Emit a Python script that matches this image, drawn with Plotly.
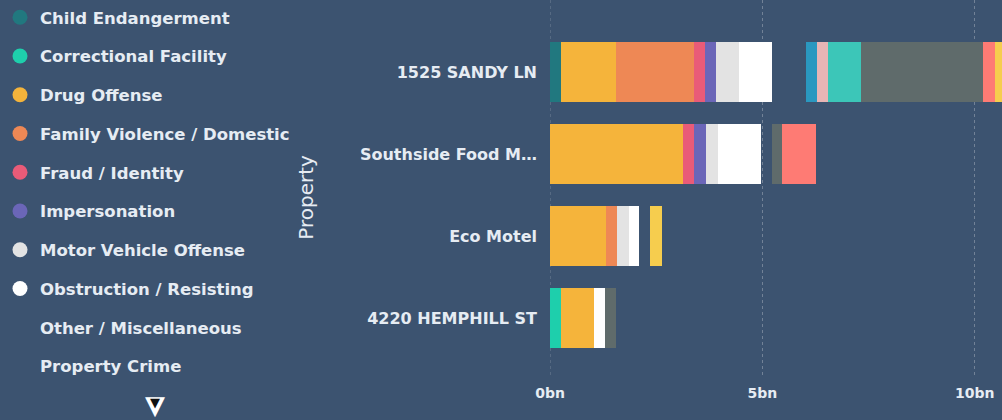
import plotly.graph_objects as go

properties = ["1525 SANDY LN", "Southside Food M\u2026", "Eco Motel", "4220 HEMPHILL ST"]

categories = [
    "Child Endangerment", "Correctional Facility", "Drug Offense",
    "Family Violence / Domestic", "Fraud / Identity", "Impersonation",
    "Motor Vehicle Offense", "Obstruction / Resisting", "Other / Miscellaneous",
    "Property Crime", "Public Order", "Sex Offense", "Theft", "Traffic",
    "Vandalism", "Weapons",
]

child_endangerment = [0.26, 0, 0, 0]
correctional_facility = [0, 0, 0, 0.27]
drug_offense = [1.29, 3.13, 1.32, 0.76]
family_violence = [1.84, 0, 0.26, 0]
fraud_identity = [0.26, 0.26, 0, 0]
impersonation = [0.26, 0.28, 0, 0]
motor_vehicle = [0.54, 0.28, 0.28, 0]
obstruction = [0.78, 1.01, 0.24, 0.27]
other_misc = [0.54, 0.27, 0.26, 0]
property_crime = [0.26, 0, 0, 0]
public_order = [0.25, 0, 0, 0]
sex_offense = [0.26, 0, 0, 0]
theft = [0.78, 0, 0, 0]
traffic = [2.87, 0.24, 0, 0.26]
vandalism = [0.28, 0.80, 0, 0]
weapons = [0.30, 0, 0.28, 0]

series = [child_endangerment, correctional_facility, drug_offense, family_violence,
          fraud_identity, impersonation, motor_vehicle, obstruction, other_misc,
          property_crime, public_order, sex_offense, theft, traffic, vandalism, weapons]

colors = ["#21787f", "#1ecfac", "#f5b43b", "#ee8855", "#e95b78", "#6b66b8",
          "#e3e3e3", "#ffffff", "rgba(0,0,0,0)", "rgba(0,0,0,0)", "#2a98c0",
          "#e8b5b5", "#3cc6b8", "#5f6b6b", "#fe7b74", "#f6cd4e"]

x_tickvals = [0, 5, 10]
x_ticktext = ["0bn", "5bn", "10bn"]

legend_visible = 10

BG = "#3c5370"
TXT = "#e6ecf3"
FONT = "DejaVu Sans"
GRID = "rgba(255,255,255,0.28)"

fig = go.Figure()
for i, (name, vals, col) in enumerate(zip(categories, series, colors)):
    fig.add_trace(go.Bar(
        y=properties, x=vals, name=name, orientation="h",
        marker=dict(color=col, line=dict(width=0)),
        legendgroup=name, showlegend=False,
    ))
    if i < legend_visible:
        fig.add_trace(go.Scatter(
            x=[None], y=[None], mode="markers", name=name, legendgroup=name,
            marker=dict(symbol="circle", size=15, color=col),
            showlegend=True, hoverinfo="skip",
        ))

fig.update_layout(
    width=1002, height=420,
    barmode="stack", bargap=0.26,
    paper_bgcolor=BG, plot_bgcolor=BG,
    margin=dict(l=550, r=0, t=0, b=45),
    font=dict(family=FONT, color=TXT, size=15),
    legend=dict(
        xref="container", yref="container", x=0, y=1.035,
        xanchor="left", yanchor="top", maxheight=440,
        font=dict(family=FONT, size=16.5, color=TXT, weight="bold"),
        tracegroupgap=14.3, bgcolor="rgba(0,0,0,0)", itemclick=False,
    ),
    xaxis=dict(
        range=[0, 10.64], tickvals=x_tickvals, ticktext=x_ticktext,
        showgrid=True, gridcolor=GRID, griddash="dot",
        gridwidth=1, zeroline=False, showline=False,
        tickfont=dict(family=FONT, size=14, color=TXT, weight=600),
        ticklabelstandoff=8,
    ),
    yaxis=dict(
        categoryorder="array", categoryarray=properties,
        range=[3.695, -0.878], showgrid=False, zeroline=False,
        tickfont=dict(family=FONT, size=16, color=TXT, weight="bold"),
        ticklabelstandoff=12, ticks="",
    ),
    shapes=[
        dict(type="line", xref="x", yref="paper", x0=0, x1=0, y0=0, y1=1,
             line=dict(color=GRID, width=1, dash="dot"), layer="below"),
    ],
    annotations=[
        dict(text="Property", xref="paper", yref="paper", x=-0.54, y=0.475,
             xanchor="center", yanchor="middle",
             textangle=-90, showarrow=False,
             font=dict(family=FONT, size=20, color=TXT)),
        dict(text="\u25bc", xref="paper", yref="paper", x=-0.874, y=-0.08,
             xanchor="center", yanchor="middle", showarrow=False,
             font=dict(size=26, color="#ffffff")),
        dict(text="\u25bc", xref="paper", yref="paper", x=-0.874, y=-0.072,
             xanchor="center", yanchor="middle", showarrow=False,
             font=dict(size=13, color="#111111")),
    ],
)

fig.write_html("out.html", config={"displayModeBar": False},
               post_script="document.body.style.margin='0';document.body.style.overflow='hidden';")
